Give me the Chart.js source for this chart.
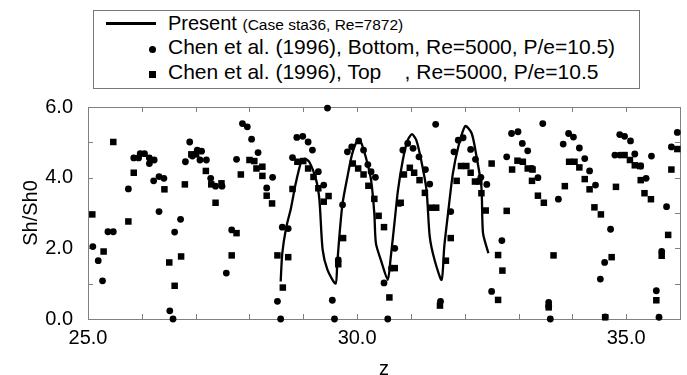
<!DOCTYPE html>
<html>
<head>
<meta charset="utf-8">
<script src="https://cdn.jsdelivr.net/npm/chart.js@4/dist/chart.umd.min.js"></script>
<style>
  html, body { margin: 0; padding: 0; background: #fff; }
  #wrap { position: relative; width: 687px; height: 375px; font-family: "Liberation Sans", Arial, sans-serif; }
  #legend { position: absolute; left: 93px; top: 10px; width: 545px; height: 77px; border: 1px solid #777; background: #fff; color: #000; }
  .row { position: absolute; left: 74px; white-space: pre; font-size: 21px; line-height: 24px; }
  .first { font-size: 20px; }
  .small { font-family: "Liberation Sans Narrow", "Liberation Sans", Arial, sans-serif; font-size: 15.5px; }
  .mk { position: absolute; background: #000; }
</style>
</head>
<body>
<div id="wrap">
  <canvas id="myChart" width="687" height="375"></canvas>
  <div id="legend">
    <div class="mk" style="left:12px; top:11px; width:50px; height:3px;"></div>
    <div class="row first" style="top:0px;">Present <span class="small">(Case sta36, Re=7872)</span></div>
    <div class="mk" style="left:55px; top:35px; width:7px; height:7px; border-radius:50%;"></div>
    <div class="row" style="top:24px;">Chen et al. (1996), Bottom, Re=5000, P/e=10.5)</div>
    <div class="mk" style="left:55px; top:60px; width:7px; height:7px;"></div>
    <div class="row" style="top:49px;">Chen et al. (1996), Top    , Re=5000, P/e=10.5</div>
  </div>
</div>
<script>
// Present computation (Case sta36, Re=7872)
const presentZ = [28.58, 28.61, 28.68, 28.77, 28.86, 28.96, 29.02, 29.11, 29.24, 29.30, 29.36, 29.45, 29.60,
  29.63, 29.67, 29.73, 29.82, 29.91, 30.01, 30.07, 30.16, 30.26, 30.32, 30.35, 30.45, 30.57,
  30.62, 30.70, 30.76, 30.85, 30.94, 31.02, 31.10, 31.19, 31.29, 31.35, 31.44, 31.57,
  31.62, 31.69, 31.78, 31.88, 32.01, 32.13, 32.22, 32.31, 32.34, 32.44];
const presentSh = [1.06, 1.86, 2.57, 3.13, 3.84, 4.45, 4.54, 4.45, 3.93, 3.37, 1.96, 1.39, 1.00,
  1.53, 2.33, 3.27, 4.02, 4.68, 5.06, 5.01, 4.59, 3.93, 2.99, 2.14, 1.63, 1.11,
  1.67, 2.80, 3.65, 4.50, 5.06, 5.23, 5.06, 4.50, 3.65, 2.33, 1.67, 1.11,
  2.05, 2.99, 4.12, 4.87, 5.46, 5.25, 4.59, 3.74, 2.43, 1.86];

// Chen et al. (1996), Bottom
const bottomZ = [25.09, 25.19, 25.27, 25.37, 25.47, 25.75, 25.85, 25.94, 25.97, 26.05, 26.14, 26.14, 26.23, 26.22,
  26.32, 26.41, 26.32, 26.52, 26.58, 26.61, 26.72, 26.81, 26.89, 26.94, 27.03, 27.11, 27.08, 27.20, 27.28,
  27.37, 27.49, 27.57, 27.67, 27.76, 27.87, 27.96, 28.04, 28.16, 28.32, 28.43, 28.52, 28.58, 28.61, 28.72,
  28.80, 28.88, 28.99, 29.09, 29.17, 29.28, 29.38, 29.45, 29.54, 29.58, 29.65, 29.73, 29.82, 29.90, 30.03,
  30.12, 30.20, 30.26, 30.34, 30.50, 30.57, 30.64, 30.70, 30.79, 30.85, 30.94, 31.04, 31.15, 31.27, 31.35,
  31.46, 31.55, 31.74, 31.80, 31.88, 31.97, 32.11, 32.20, 32.30, 32.41, 32.50, 32.69, 32.78, 32.87, 32.99,
  33.07, 33.17, 33.25, 33.36, 33.45, 33.56, 33.56, 33.59, 33.74, 33.83, 33.93, 34.02, 34.13, 34.23, 34.32,
  34.43, 34.52, 34.60, 34.61, 34.71, 34.79, 34.88, 34.88, 34.97, 35.08, 35.16, 35.27, 35.37, 35.47, 35.56,
  35.61, 35.66, 35.75, 35.84, 35.95];
const bottomSh = [2.05, 1.65, 1.08, 2.47, 2.47, 3.68, 4.56, 4.56, 4.68, 4.68, 4.56, 4.40, 4.50, 3.91,
  4.03, 3.98, 3.04, 0.23, 0.00, 2.46, 2.82, 4.45, 5.01, 4.61, 4.78, 4.75, 4.50, 4.50, 3.98,
  3.76, 3.76, 1.30, 2.52, 4.52, 5.53, 5.44, 5.09, 4.71, 3.71, 4.01, 0.50, 0.00, 2.60, 2.56,
  4.57, 5.14, 5.17, 5.01, 4.78, 4.17, 3.79, 5.97, 0.53, 0.00, 1.67, 3.23, 4.73, 4.87, 5.04,
  4.78, 4.37, 4.17, 4.01, 1.02, 0.00, 1.44, 2.00, 3.27, 4.78, 4.97, 4.83, 4.59, 4.23, 3.82,
  5.51, 0.50, 3.04, 4.73, 5.06, 5.13, 4.80, 4.52, 4.01, 3.81, 0.78, 2.22, 4.59, 5.25, 5.30,
  4.97, 4.76, 4.26, 4.00, 5.53, 0.47, 0.36, 0.00, 3.39, 4.95, 5.25, 5.15, 4.84, 4.54, 4.19,
  3.79, 1.13, 1.60, 0.06, 2.54, 4.64, 4.64, 5.22, 5.17, 5.04, 4.67, 4.33, 3.98, 4.61, 0.80,
  0.05, 1.91, 3.18, 4.87, 5.28];

// Chen et al. (1996), Top
const topZ = [25.08, 25.29, 25.47, 25.75, 25.85, 26.42, 26.51, 26.61, 26.73, 26.80, 26.92, 27.01, 27.19, 27.29,
  27.48, 27.37, 27.67, 27.76, 27.84, 28.00, 28.09, 28.13, 28.24, 28.24, 28.32, 28.42, 28.52, 28.62, 28.72,
  28.80, 28.89, 29.00, 29.09, 29.19, 29.28, 29.38, 29.47, 29.65, 29.74, 29.92, 30.02, 30.12, 30.21, 30.32,
  30.40, 30.50, 30.60, 30.70, 30.81, 30.87, 30.98, 31.06, 31.16, 31.26, 31.38, 31.47, 31.54, 31.65, 31.74,
  31.85, 31.93, 32.03, 32.11, 32.19, 32.27, 32.31, 32.39, 32.50, 32.62, 32.70, 32.62, 32.78, 32.88, 32.98,
  33.08, 33.17, 33.26, 33.25, 33.36, 33.47, 33.56, 33.65, 33.86, 33.94, 34.04, 34.13, 34.23, 34.32, 34.41,
  34.53, 34.61, 34.73, 34.81, 34.97, 35.07, 35.16, 35.26, 35.27, 35.34, 35.46, 35.56, 35.66, 35.78, 35.84,
  35.95];
const topSh = [2.96, 1.91, 5.01, 2.76, 4.14, 3.67, 1.60, 0.94, 1.77, 3.81, 4.66, 4.66, 4.19, 3.81,
  3.84, 3.29, 1.80, 2.43, 4.09, 4.50, 4.47, 4.26, 4.31, 4.05, 3.49, 3.27, 1.80, 0.89, 1.75,
  3.68, 4.45, 4.47, 4.26, 4.02, 3.70, 3.32, 3.48, 1.55, 2.29, 4.40, 4.26, 4.09, 3.77, 3.40,
  2.92, 2.60, 0.61, 1.44, 3.29, 4.09, 4.28, 4.14, 3.93, 3.57, 3.15, 3.15, 0.38, 1.65, 2.29,
  3.91, 4.33, 4.33, 4.14, 3.89, 3.89, 3.56, 3.07, 4.40, 1.81, 1.37, 0.54, 3.06, 4.23, 4.48,
  4.45, 4.26, 4.23, 3.91, 3.49, 3.29, 0.33, 1.80, 3.76, 4.45, 4.45, 4.29, 3.96, 3.67, 3.16,
  2.96, 0.05, 1.75, 3.74, 4.64, 4.50, 4.35, 4.33, 3.93, 3.56, 3.39, 0.53, 1.79, 2.38, 4.23,
  4.81];

const xMin = 25, xMax = 36;
const yMin = 0, yMax = 6;

function toPoints(xs, ys) {
    return xs.map((x, i) => ({ x: x, y: ys[i] }));
}

// frame around the plot area with inward tick marks on all sides
const frameTicks = {
    id: 'frameTicks',
    beforeDatasetsDraw(chart) {
        const { ctx, chartArea: a, scales } = chart;
        ctx.save();
        ctx.strokeStyle = '#808080';
        ctx.lineWidth = 1;
        ctx.strokeRect(a.left + 0.5, a.top + 0.5, a.right - a.left, a.bottom - a.top);
        ctx.beginPath();
        for (let v = xMin; v <= xMax; v++) {
            const px = Math.round(scales.x.getPixelForValue(v)) + 0.5;
            ctx.moveTo(px, a.bottom); ctx.lineTo(px, a.bottom - 5);
            ctx.moveTo(px, a.top); ctx.lineTo(px, a.top + 5);
        }
        for (let v = yMin; v <= yMax; v++) {
            const py = Math.round(scales.y.getPixelForValue(v)) + 0.5;
            ctx.moveTo(a.left, py); ctx.lineTo(a.left + 5, py);
            ctx.moveTo(a.right, py); ctx.lineTo(a.right - 5, py);
        }
        ctx.stroke();
        ctx.restore();
    }
};

const font = { family: '"Liberation Sans", Arial, sans-serif', size: 20 };

const ctx = document.getElementById('myChart').getContext('2d');
const myChart = new Chart(ctx, {
    type: 'scatter',
    data: {
        datasets: [{
            label: 'Present (Case sta36, Re=7872)',
            type: 'line',
            data: toPoints(presentZ, presentSh),
            borderColor: '#000',
            borderWidth: 2.3,
            pointRadius: 0,
            tension: 0.25,
            fill: false,
            clip: false
        }, {
            label: 'Chen et al. (1996), Bottom, Re=5000, P/e=10.5)',
            data: toPoints(bottomZ, bottomSh),
            pointStyle: 'circle',
            pointRadius: 3.4,
            backgroundColor: '#000',
            borderColor: '#000',
            borderWidth: 0,
            clip: false
        }, {
            label: 'Chen et al. (1996), Top    , Re=5000, P/e=10.5',
            data: toPoints(topZ, topSh),
            pointStyle: 'rect',
            pointRadius: 4.6,
            backgroundColor: '#000',
            borderColor: '#000',
            borderWidth: 0,
            clip: false
        }]
    },
    options: {
        responsive: false,
        animation: false,
        devicePixelRatio: 1,
        layout: {
            padding: { top: 107, right: 7, left: 0, bottom: 0 }
        },
        plugins: {
            legend: { display: false },
            tooltip: { enabled: false }
        },
        scales: {
            x: {
                type: 'linear',
                min: xMin,
                max: xMax,
                afterFit: (s) => { s.height = 56; },
                grid: { display: false, drawTicks: false },
                border: { display: false },
                ticks: {
                    stepSize: 1,
                    autoSkip: false,
                    maxRotation: 0,
                    padding: 7,
                    color: '#000',
                    font: font,
                    callback: (v) => (v % 5 === 0 ? v.toFixed(1) : '')
                },
                title: {
                    display: true,
                    text: 'z',
                    color: '#000',
                    font: font,
                    padding: { top: 0, bottom: -6 }
                }
            },
            y: {
                type: 'linear',
                min: yMin,
                max: yMax,
                afterFit: (s) => { s.width = 88; },
                grid: { display: false, drawTicks: false },
                border: { display: false },
                ticks: {
                    stepSize: 1,
                    autoSkip: false,
                    padding: 15,
                    color: '#000',
                    font: font,
                    callback: (v) => (v % 2 === 0 ? v.toFixed(1) : '')
                },
                title: {
                    display: true,
                    text: 'Sh/Sh0',
                    color: '#000',
                    font: font,
                    padding: { top: 19, bottom: 0 }
                }
            }
        }
    },
    plugins: [frameTicks]
});
</script>
</body>
</html>
